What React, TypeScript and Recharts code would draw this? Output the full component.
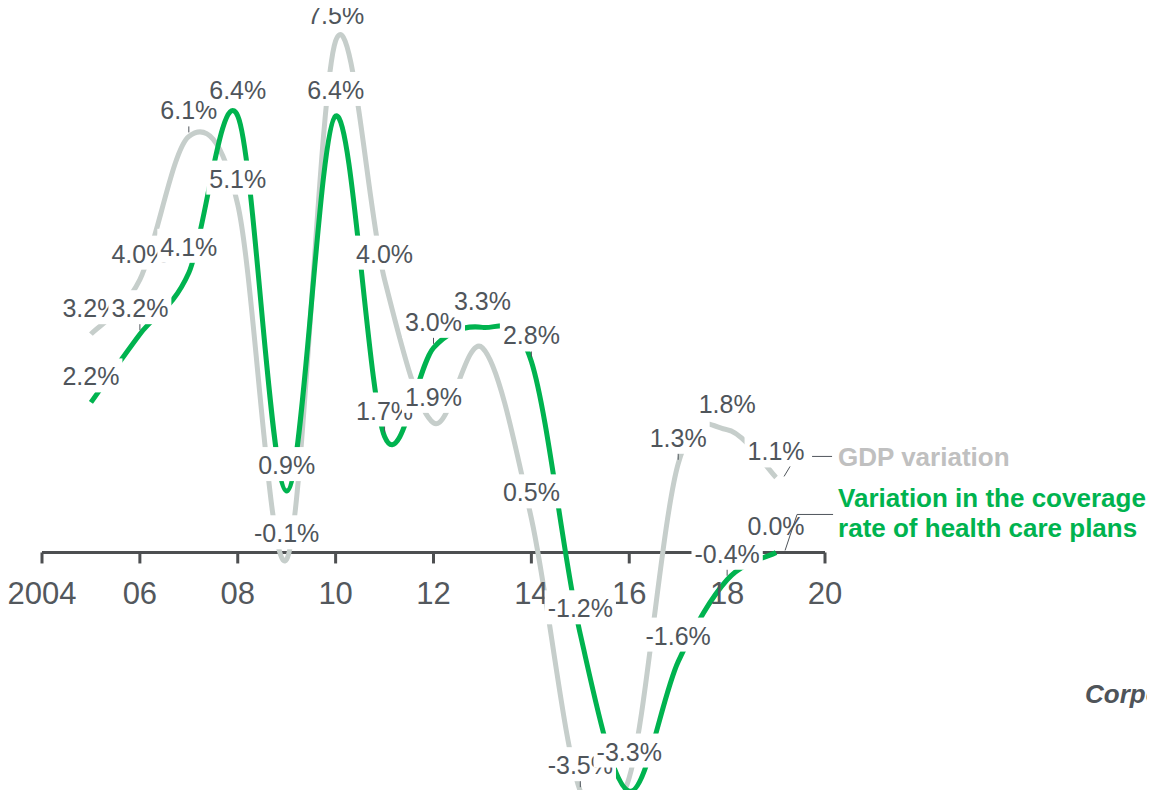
import React from 'react';
import { LineChart, Line, XAxis, YAxis, ReferenceLine, ReferenceDot } from 'recharts';

// yearly % variation, 2005-2019
const years = [2005, 2006, 2007, 2008, 2009, 2010, 2011, 2012, 2013, 2014, 2015, 2016, 2017, 2018, 2019];
const gdpVariation = [3.2, 4.0, 6.1, 5.1, -0.1, 7.5, 4.0, 1.9, 3.0, 0.5, -3.5, -3.3, 1.3, 1.8, 1.1];
const coverageVariation = [2.2, 3.2, 4.1, 6.4, 0.9, 6.4, 1.7, 3.0, 3.3, 2.8, -1.2, -3.5, -1.6, -0.4, 0.0];

const axisYears = [2004, 2006, 2008, 2010, 2012, 2014, 2016, 2018, 2020];
const axisLabels = ['2004', '06', '08', '10', '12', '14', '16', '18', '20'];

// labels left off (they collide with their neighbours)
const gdpHidden = [8];
const coverageHidden = [11];
// labels that get a small leader tick
const gdpLeaders = [2, 10, 12];
const coverageLeaders = [1, 6, 7, 9, 13];
// gdp labels painted after the coverage ones
const gdpOnTop = [7];

const rows = years.map((year, i) => ({ year, gdp: gdpVariation[i], coverage: coverageVariation[i] }));

const FONT = '"Liberation Sans", Arial, Helvetica, sans-serif';
const GRAY = '#c6cecb';
const GREEN = '#00b34f';
const INK = '#4f555b';
const AXIS = '#4d4f51';
const LEGEND_GRAY = '#c0c0c0';

// Excel-like smoothing: Catmull-Rom segments as cubic beziers
function smoothCurve(context: any) {
  let pts: [number, number][] = [];
  return {
    areaStart() {},
    areaEnd() {},
    lineStart() {
      pts = [];
    },
    point(x: number, y: number) {
      pts.push([+x, +y]);
    },
    lineEnd() {
      const n = pts.length;
      if (!n) return;
      context.moveTo(pts[0][0], pts[0][1]);
      for (let i = 0; i < n - 1; i++) {
        const p0 = pts[Math.max(i - 1, 0)];
        const p1 = pts[i];
        const p2 = pts[i + 1];
        const p3 = pts[Math.min(i + 2, n - 1)];
        context.bezierCurveTo(
          p1[0] + (p2[0] - p0[0]) / 6,
          p1[1] + (p2[1] - p0[1]) / 6,
          p2[0] - (p3[0] - p1[0]) / 6,
          p2[1] - (p3[1] - p1[1]) / 6,
          p2[0],
          p2[1],
        );
      }
    },
  };
}

const charW: Record<string, number> = { '.': 0.278, '%': 0.889, '-': 0.333 };
const textWidth = (s: string, size: number) =>
  s.split('').reduce((w, c) => w + (charW[c] ?? 0.556), 0) * size;
const pct = (v: number) => `${v.toFixed(1)}%`;

const TAG_SIZE = 25;

// value tag: white box sitting above the point, optional leader tick
function Tag({ x, y, value, lead }: { x: number; y: number; value: number; lead: boolean }) {
  const text = pct(value);
  const w = textWidth(text, TAG_SIZE) + 6;
  const cy = y - 26;
  return (
    <g>
      {lead && <line x1={x} y1={cy + 10} x2={x} y2={y - 4} stroke={INK} strokeWidth={1} />}
      <rect x={x - w / 2} y={cy - 18} width={w} height={34} fill="#fff" />
      <text x={x} y={cy + 9} textAnchor="middle" fontSize={TAG_SIZE} fontFamily={FONT} fill={INK}>
        {text}
      </text>
    </g>
  );
}

function GdpLegend({ x, y }: { x: number; y: number }) {
  return (
    <g>
      <line x1={x + 14} y1={y - 11} x2={x + 8} y2={y - 1} stroke={INK} strokeWidth={1} />
      <line x1={x + 36} y1={y - 21} x2={x + 56} y2={y - 21} stroke={INK} strokeWidth={1} />
      <text x={x + 62} y={y - 11} fontSize={26} fontWeight="bold" fontFamily={FONT} fill={LEGEND_GRAY}>
        GDP variation
      </text>
    </g>
  );
}

function CoverageLegend({ x, y }: { x: number; y: number }) {
  return (
    <g>
      <polyline
        points={`${x + 57},${y - 38} ${x + 21},${y - 38} ${x + 9},${y - 2}`}
        fill="none"
        stroke={INK}
        strokeWidth={1}
      />
      <text x={x + 62} y={y - 45} fontSize={26} fontWeight="bold" fontFamily={FONT} fill={GREEN}>
        Variation in the coverage
      </text>
      <text x={x + 62} y={y - 15} fontSize={26} fontWeight="bold" fontFamily={FONT} fill={GREEN}>
        rate of health care plans
      </text>
    </g>
  );
}

const last = years.length - 1;

const gdpLabels = (onTop: boolean) => (props: any) => {
  const { x, y, index } = props;
  if (x == null || y == null) return null;
  const top = gdpOnTop.includes(index);
  const parts: React.ReactNode[] = [];
  if (top === onTop && !gdpHidden.includes(index)) {
    parts.push(<Tag key="t" x={x} y={y} value={gdpVariation[index]} lead={gdpLeaders.includes(index)} />);
  }
  if (onTop && index === last) parts.push(<GdpLegend key="l" x={x} y={y} />);
  return parts.length ? <g key={`g-${onTop}-${index}`}>{parts}</g> : null;
};

const coverageLabels = (props: any) => {
  const { x, y, index } = props;
  if (x == null || y == null) return null;
  const parts: React.ReactNode[] = [];
  if (!coverageHidden.includes(index)) {
    parts.push(
      <Tag key="t" x={x} y={y} value={coverageVariation[index]} lead={coverageLeaders.includes(index)} />,
    );
  }
  if (index === last) parts.push(<CoverageLegend key="l" x={x} y={y} />);
  return parts.length ? <g key={`c-${index}`}>{parts}</g> : null;
};

const AxisTick = (label: string) => (p: any) => (
  <g>
    <line x1={p.cx} y1={p.cy} x2={p.cx} y2={p.cy + 11} stroke={AXIS} strokeWidth={3} />
    <text x={p.cx} y={p.cy + 52} textAnchor="middle" fontSize={31} fontFamily={FONT} fill="#53585d">
      {label}
    </text>
  </g>
);

export default function App() {
  return (
    <div style={{ position: 'relative', width: 1155, height: 798, margin: -8, overflow: 'hidden', background: '#fff' }}>
      <LineChart width={1155} height={798} data={rows} margin={{ top: 0, right: 330, bottom: 0, left: 42 }}>
        <XAxis type="number" dataKey="year" domain={[2004, 2020]} hide />
        <YAxis type="number" domain={[-3.6, 8.1]} hide />
        <ReferenceLine y={0} stroke={AXIS} strokeWidth={3} ifOverflow="visible" />
        {axisYears.map((yr, i) => (
          <ReferenceDot key={yr} x={yr} y={0} r={0} ifOverflow="visible" shape={AxisTick(axisLabels[i])} />
        ))}
        <Line
          dataKey="gdp"
          type={smoothCurve as any}
          stroke={GRAY}
          strokeWidth={5}
          dot={false}
          activeDot={false}
          isAnimationActive={false}
        />
        <Line
          dataKey="coverage"
          type={smoothCurve as any}
          stroke={GREEN}
          strokeWidth={5}
          dot={false}
          activeDot={false}
          isAnimationActive={false}
        />
        <Line
          dataKey="gdp"
          stroke="none"
          dot={false}
          activeDot={false}
          isAnimationActive={false}
          label={gdpLabels(false)}
        />
        <Line
          dataKey="coverage"
          stroke="none"
          dot={false}
          activeDot={false}
          isAnimationActive={false}
          label={coverageLabels}
        />
        <Line
          dataKey="gdp"
          stroke="none"
          dot={false}
          activeDot={false}
          isAnimationActive={false}
          label={gdpLabels(true)}
        />
      </LineChart>
      <div
        style={{
          position: 'absolute',
          left: 1085,
          top: 681,
          fontFamily: FONT,
          fontSize: 26,
          lineHeight: '26px',
          fontWeight: 'bold',
          fontStyle: 'italic',
          color: '#4f5459',
          whiteSpace: 'nowrap',
        }}
      >
        Corporate
      </div>
    </div>
  );
}
